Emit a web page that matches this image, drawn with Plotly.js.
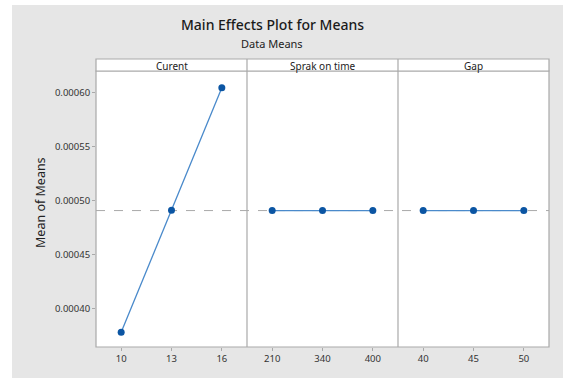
<!DOCTYPE html>
<html>
<head>
<meta charset="utf-8">
<script src="https://cdn.plot.ly/plotly-3.0.1.min.js"></script>
<style>html,body{margin:0;padding:0;background:#fff;}#chart{width:563px;height:378px;}</style>
</head>
<body>
<div id="chart"></div>
<script>
const factorNames = ['Curent', 'Sprak on time', 'Gap'];
const currentLevels = ['10', '13', '16'];
const currentMeans = [0.0003784, 0.0004914, 0.0006046];
const sparkLevels = ['210', '340', '400'];
const sparkMeans = [0.000491, 0.000491, 0.000491];
const gapLevels = ['40', '45', '50'];
const gapMeans = [0.000491, 0.000491, 0.000491];
const grandMean = 0.000491;
const yTickVals = [0.00040, 0.00045, 0.00050, 0.00055, 0.00060];

const W = 563, H = 378;
const L = 96, R = 14, T = 71, B = 31;
const pw = W - L - R, ph = H - T - B;
const px = x => (x - L) / pw;
const py = y => (H - B - y) / ph;

const lineColor = '#4a8acb';
const markerColor = '#0b55a3';
const gridGray = '#a9a9a9';
const font = 'Noto Sans, Open Sans, sans-serif';

const levelSets = [currentLevels, sparkLevels, gapLevels];
const meanSets = [currentMeans, sparkMeans, gapMeans];
const traces = levelSets.map((lv, i) => ({
  type: 'scatter', mode: 'lines+markers',
  x: lv, y: meanSets[i],
  xaxis: i === 0 ? 'x' : 'x' + (i + 1), yaxis: 'y',
  line: {color: lineColor, width: 1.3},
  marker: {color: markerColor, size: 7},
  hoverinfo: 'skip', showlegend: false
}));

function xAxis(i) {
  return {
    type: 'category', domain: [i / 3, (i + 1) / 3], range: [-0.5, 2.5],
    anchor: 'y', showgrid: false, zeroline: false, showline: false,
    ticks: 'outside', ticklen: 3, tickcolor: gridGray, tickwidth: 1,
    tickfont: {family: font, size: 9.5, color: '#333'}, fixedrange: true
  };
}

const shapes = [
  {type: 'rect', xref: 'paper', yref: 'paper', x0: px(0), x1: px(W), y0: py(0), y1: py(5), fillcolor: '#fff', line: {width: 0}, layer: 'below'},
  {type: 'rect', xref: 'paper', yref: 'paper', x0: px(0), x1: px(12), y0: py(0), y1: py(H), fillcolor: '#fff', line: {width: 0}, layer: 'below'},
  {type: 'rect', xref: 'paper', yref: 'paper', x0: 0, x1: 1, y0: 0, y1: 1, fillcolor: '#fff', line: {color: gridGray, width: 1.2}, layer: 'below'},
  {type: 'rect', xref: 'paper', yref: 'paper', x0: 0, x1: 1, y0: 1, y1: py(59), fillcolor: '#fff', line: {color: gridGray, width: 1.2}, layer: 'below'},
  {type: 'line', xref: 'paper', yref: 'paper', x0: 1/3, x1: 1/3, y0: 0, y1: py(59), line: {color: gridGray, width: 1.2}},
  {type: 'line', xref: 'paper', yref: 'paper', x0: 2/3, x1: 2/3, y0: 0, y1: py(59), line: {color: gridGray, width: 1.2}},
  {type: 'line', xref: 'paper', yref: 'y', x0: 0, x1: 1, y0: grandMean, y1: grandMean, line: {color: gridGray, width: 1, dash: 'dash'}, layer: 'below'}
];

const annotations = [
  {text: 'Main Effects Plot for Means', xref: 'paper', yref: 'paper', x: px(272), y: py(25), showarrow: false, xanchor: 'center', yanchor: 'middle', font: {family: font, size: 14, color: '#1a1a1a', weight: 500}},
  {text: 'Data Means', xref: 'paper', yref: 'paper', x: px(272), y: py(43), showarrow: false, xanchor: 'center', yanchor: 'middle', font: {family: font, size: 11, color: '#222'}},
  {text: 'Mean of Means', xref: 'paper', yref: 'paper', x: px(40), y: py(203), showarrow: false, textangle: -90, xanchor: 'center', yanchor: 'middle', font: {family: font, size: 12.5, color: '#222'}}
].concat(factorNames.map((n, i) => ({
  text: n, xref: 'paper', yref: 'paper', x: (i + 0.5) / 3, y: py(65.5), showarrow: false, xanchor: 'center', yanchor: 'middle', font: {family: font, size: 10, color: '#222'}
})));

const layout = {
  width: W, height: H,
  margin: {l: L, r: R, t: T, b: B, pad: 0},
  paper_bgcolor: '#e6e6e6', plot_bgcolor: 'rgba(0,0,0,0)',
  showlegend: false,
  xaxis: xAxis(0), xaxis2: xAxis(1), xaxis3: xAxis(2),
  yaxis: {
    range: [0.0003648, 0.0006201], tickvals: yTickVals, tickformat: '.5f',
    showgrid: false, zeroline: false, showline: false,
    ticks: 'outside', ticklen: 3, tickcolor: gridGray,
    tickfont: {family: font, size: 9.5, color: '#333'}, fixedrange: true
  },
  shapes: shapes, annotations: annotations
};

Plotly.newPlot('chart', traces, layout, {displayModeBar: false, staticPlot: true});
</script>
</body>
</html>
